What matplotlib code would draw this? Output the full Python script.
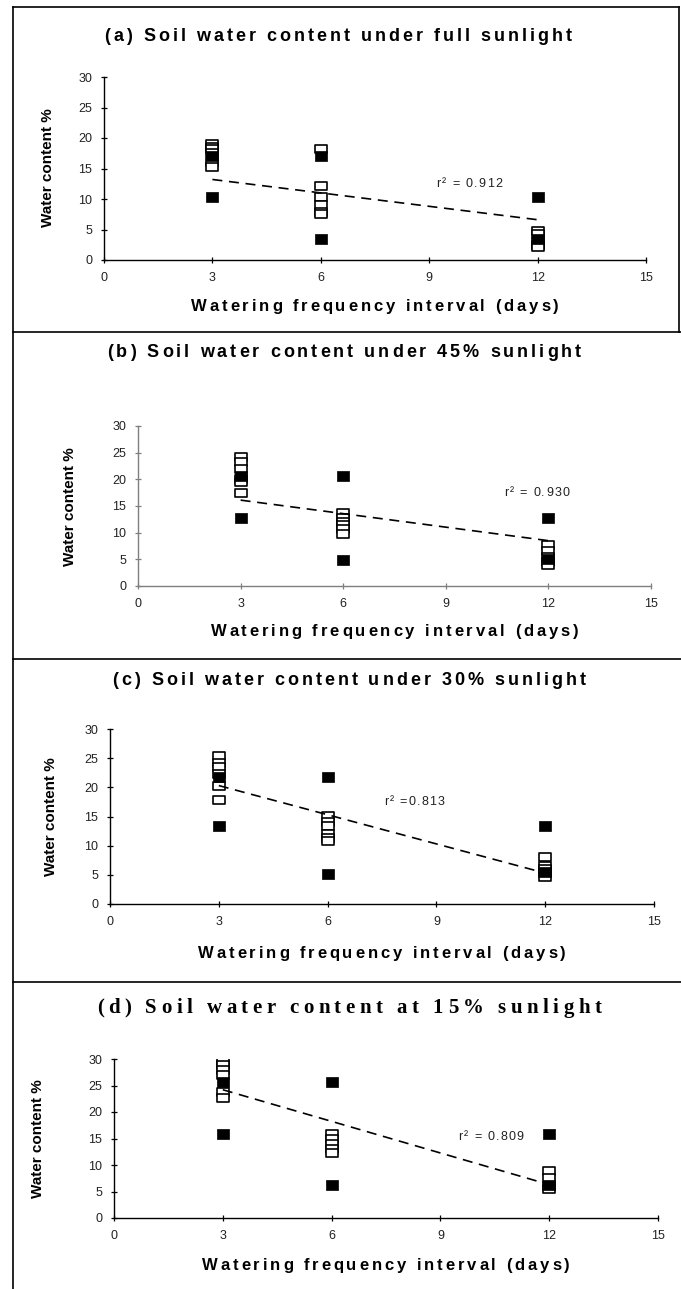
import matplotlib
matplotlib.use("Agg")
import matplotlib.pyplot as plt
from matplotlib.lines import Line2D
from matplotlib.path import Path
from matplotlib.font_manager import FontProperties

W, H = 681, 1289

days = [3, 6, 12]

# (a) full sunlight
open_a = [[19.0, 18.6, 18.2, 17.6, 16.0, 15.3],
          [18.2, 12.2, 10.3, 9.0, 7.9, 7.5],
          [4.7, 4.3, 3.0, 2.5, 2.1]]
filled_a = [[17.0, 10.3], [17.1, 3.5], [10.3, 3.5]]
trend_a = [13.2, 6.6]
r2_a = 0.912

# (b) 45% sunlight
open_b = [[24.2, 23.2, 22.0, 20.0, 19.5, 17.4],
          [13.6, 12.8, 12.0, 11.4, 10.7, 9.8],
          [7.7, 6.5, 5.5, 4.5, 4.0]]
filled_b = [[20.6, 12.8], [20.7, 4.9], [12.8, 5.0]]
trend_b = [16.1, 8.5]
r2_b = 0.930

# (c) 30% sunlight
open_c = [[25.3, 24.2, 23.5, 22.3, 20.2, 17.8],
          [15.1, 14.0, 13.3, 12.0, 11.3, 10.8],
          [8.0, 6.5, 6.0, 5.3, 4.7]]
filled_c = [[21.8, 13.4], [21.7, 5.1], [13.4, 5.5]]
trend_c = [20.3, 5.3]
r2_c = 0.813

# (d) 15% sunlight
open_d = [[29.7, 28.8, 28.0, 27.0, 23.7, 22.6],
          [15.9, 15.0, 14.0, 13.0, 12.3],
          [8.8, 7.6, 6.0, 5.4]]
filled_d = [[25.7, 15.9], [25.6, 6.2], [15.8, 6.2]]
trend_d = [24.2, 6.3]
r2_d = 0.809

titles = ["(a) Soil water content under full sunlight",
          "(b) Soil water content under 45% sunlight",
          "(c) Soil water content under 30% sunlight",
          "(d) Soil water content at 15% sunlight"]
xlabel = "Watering frequency interval (days)"
ylabel = "Water content %"
xticks = [0, 3, 6, 9, 12, 15]
yticks = [0, 5, 10, 15, 20, 25, 30]

# layout in pixels from the top-left: axes box, title centre/baseline, xlabel baseline, ylabel centre
panels = [
    dict(opn=open_a, fil=filled_a, trend=trend_a, r2=r2_a, sep=" = ", r2xy=(9.2, 11.9),
         box=(104, 646, 77, 260), title=(338, 41), xl_y=311, yl=(48, 168), spine="black"),
    dict(opn=open_b, fil=filled_b, trend=trend_b, r2=r2_b, sep=" = ", r2xy=(10.7, 16.9),
         box=(138, 651, 426, 586), title=(344, 357), xl_y=636, yl=(70, 507), spine="#7f7f7f"),
    dict(opn=open_c, fil=filled_c, trend=trend_c, r2=r2_c, sep=" =", r2xy=(7.55, 17.0),
         box=(110, 654, 729, 904), title=(349, 685), xl_y=958, yl=(51, 817), spine="black"),
    dict(opn=open_d, fil=filled_d, trend=trend_d, r2=r2_d, sep=" = ", r2xy=(9.49, 14.7),
         box=(114, 658, 1059, 1218), title=(349, 1013), xl_y=1270, yl=(38, 1139), spine="black"),
]

title_sans = FontProperties(family="Liberation Sans", weight="bold", size=13)
title_serif = FontProperties(family="Liberation Serif", weight="bold", size=15)
xl_prop = FontProperties(family="Liberation Sans", weight="bold", size=12)
r2_prop = FontProperties(family="Liberation Sans", size=9)

# wide, slightly flattened squares
rect = Path([(-1, -0.75), (1, -0.75), (1, 0.75), (-1, 0.75), (-1, -0.75)],
            [Path.MOVETO, Path.LINETO, Path.LINETO, Path.LINETO, Path.CLOSEPOLY])

fig = plt.figure(figsize=(W / 100, H / 100), dpi=100)
renderer = fig.canvas.get_renderer()


def spaced(x, y, s, gap, prop, ha="center", color="black"):
    # draw s one glyph at a time with extra letter spacing; x, y in display pixels (baseline)
    widths = [0.0] + [renderer.get_text_width_height_descent(s[:i], prop, ismath=False)[0]
                      for i in range(1, len(s) + 1)]
    total = widths[-1] + gap * (len(s) - 1)
    x0 = x - total / 2 if ha == "center" else x
    for i, ch in enumerate(s):
        if ch == " ":
            continue
        fig.text((x0 + widths[i] + gap * i) / W, y / H, ch, fontproperties=prop,
                 ha="left", va="baseline", color=color)


for k, p in enumerate(panels):
    l, r, t, b = p["box"]
    ax = fig.add_axes([l / W, 1 - b / H, (r - l) / W, (b - t) / H])
    ax.set_xlim(0, 15)
    ax.set_ylim(0, 30)
    ax.patch.set_alpha(0)
    for side in ("top", "right"):
        ax.spines[side].set_visible(False)
    for side in ("left", "bottom"):
        ax.spines[side].set_color(p["spine"])
        ax.spines[side].set_linewidth(1.0)
    ax.set_xticks(xticks)
    ax.set_yticks(yticks)
    ax.tick_params(direction="inout", length=5, width=0.9, labelsize=9,
                   colors=p["spine"], labelcolor="#222222")
    ax.tick_params(axis="x", pad=6)
    ax.tick_params(axis="y", pad=6)
    for lab in ax.get_xticklabels() + ax.get_yticklabels():
        lab.set_family("Liberation Sans")

    for d, vals in zip(days, p["opn"]):
        ax.plot([d] * len(vals), vals, linestyle="none", marker=rect, markersize=8,
                markerfacecolor="white", markeredgecolor="black", markeredgewidth=1.2, zorder=3)
    for d, vals in zip(days, p["fil"]):
        ax.plot([d] * len(vals), vals, linestyle="none", marker=rect, markersize=9,
                markerfacecolor="black", markeredgecolor="black", markeredgewidth=0.5, zorder=4)

    ax.plot([days[0], days[-1]], p["trend"], color="black", linewidth=1.2,
            dashes=(6, 4), zorder=5)

    # r-squared label
    px, py = ax.transData.transform(p["r2xy"])
    spaced(px, py, "r²" + p["sep"] + f"{p['r2']:.3f}", 1.3, r2_prop, ha="left", color="#222222")

    tprop = title_serif if k == 3 else title_sans
    tgap = 4.5 if k == 3 else 3.0
    spaced(p["title"][0], H - p["title"][1], titles[k], tgap, tprop)
    spaced((l + r) / 2, H - p["xl_y"], xlabel, 2.9, xl_prop)
    fig.text(p["yl"][0] / W, 1 - p["yl"][1] / H, ylabel, rotation=90, ha="center", va="center",
             family="Liberation Sans", weight="bold", fontsize=11)

# panel frames
frame = dict(color="black", linewidth=1.2)
fig.add_artist(Line2D([13 / W, 13 / W], [0, 1 - 7 / H], **frame))
fig.add_artist(Line2D([13 / W, 679 / W], [1 - 7 / H, 1 - 7 / H], **frame))
fig.add_artist(Line2D([679 / W, 679 / W], [1 - 7 / H, 1 - 332 / H], **frame))
for yy in (332, 659, 982):
    fig.add_artist(Line2D([13 / W, 1], [1 - yy / H, 1 - yy / H], **frame))

fig.savefig("out.png", dpi=100, facecolor="white")
